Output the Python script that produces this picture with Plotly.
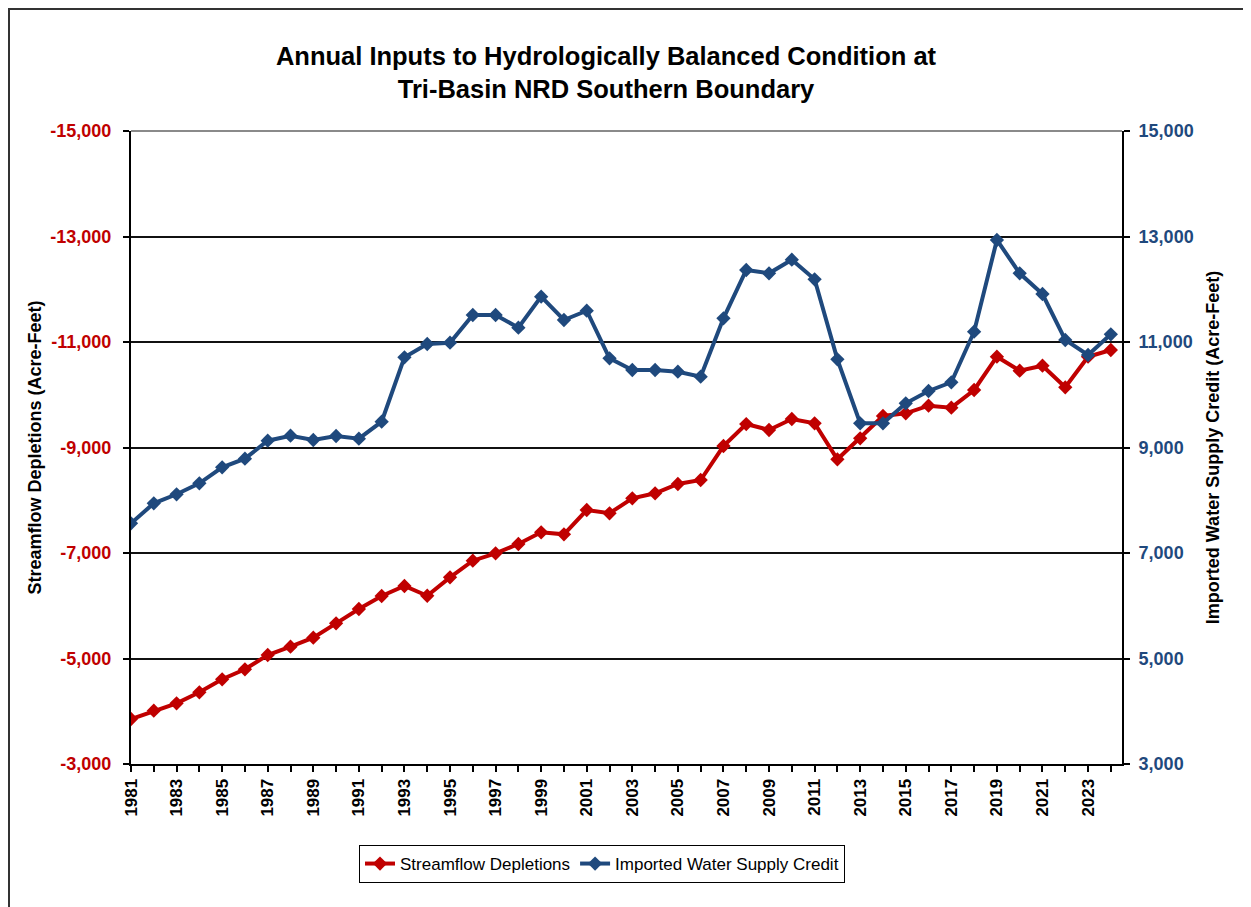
import plotly.graph_objects as go

years = list(range(1981, 2025))

streamflow_depletions = [
    -3853, -4010, -4151, -4359, -4606, -4795, -5066, -5224, -5394, -5667,
    -5938, -6185, -6374, -6190, -6539, -6854, -6994, -7171, -7392, -7354,
    -7815, -7753, -8037, -8132, -8308, -8384, -9028, -9445, -9332, -9540,
    -9459, -8776, -9174, -9597, -9648, -9792, -9755, -10090, -10721, -10456,
    -10551, -10141, -10721, -10848,
]

imported_water_credit = [
    7563, 7942, 8113, 8321, 8625, 8788, 9129, 9224, 9142, 9218,
    9167, 9489, 10710, 10962, 10987, 11512, 11512, 11271, 11859, 11417,
    11593, 10691, 10469, 10469, 10437, 10342, 11449, 12365, 12302, 12560,
    12189, 10672, 9459, 9459, 9838, 10071, 10236, 11195, 12934, 12302,
    11910, 11038, 10754, 11146,
]

left_tickvals = [-15000, -13000, -11000, -9000, -7000, -5000, -3000]
left_ticktext = ["-15,000", "-13,000", "-11,000", "-9,000", "-7,000", "-5,000", "-3,000"]
right_tickvals = [15000, 13000, 11000, 9000, 7000, 5000, 3000]
right_ticktext = ["15,000", "13,000", "11,000", "9,000", "7,000", "5,000", "3,000"]
x_ticktext = [str(y) if y % 2 == 1 else "" for y in years]

title_text = "Annual Inputs to Hydrologically Balanced Condition at<br>Tri-Basin NRD Southern Boundary"

RED = "#C00000"
BLUE = "#1F497D"
FONT = "Arial, Liberation Sans, sans-serif"

fig = go.Figure()
fig.add_trace(go.Scatter(
    x=years, y=streamflow_depletions, name="Streamflow Depletions",
    mode="lines+markers", yaxis="y",
    line=dict(color=RED, width=4),
    marker=dict(symbol="diamond", size=11, color=RED),
))
fig.add_trace(go.Scatter(
    x=years, y=imported_water_credit, name="Imported Water Supply Credit",
    mode="lines+markers", yaxis="y2",
    line=dict(color=BLUE, width=4),
    marker=dict(symbol="diamond", size=11, color=BLUE),
))

# page has an 8px body margin; figure origin is at page (8, 8)
OFF = 8
W, H = 1251 - OFF, 907 - OFF
L, T = 131 - OFF, 131 - OFF
R, B = 129, 143
pw = W - L - R
ph = H - T - B

def px_x(x):  # page pixel -> paper
    return (x - OFF - L) / pw

def px_y(y):
    return (H - B - (y - OFF)) / ph

fig.update_layout(
    width=W, height=H,
    margin=dict(l=L, r=R, t=T, b=B),
    paper_bgcolor="white", plot_bgcolor="white",
    font=dict(family=FONT, color="black"),
    title=dict(
        text="<b>" + title_text + "</b>",
        x=px_x(606), xanchor="center", xref="paper",
        y=1 - 57 / H, yanchor="top", yref="container",
        font=dict(size=25.5, family=FONT, color="black"),
    ),
    xaxis=dict(
        range=[1981, 2024.49],
        tickvals=years, ticktext=x_ticktext,
        tickangle=-90,
        ticks="outside", ticklen=6, tickwidth=2, tickcolor="black",
        showline=True, linecolor="black", linewidth=2,
        showgrid=False, zeroline=False,
        tickfont=dict(size=17, family=FONT, color="black", weight="bold"),
    ),
    yaxis=dict(
        range=[-3000, -15000],
        tickvals=left_tickvals, ticktext=left_ticktext,
        ticks="outside", ticklen=6, tickwidth=2, tickcolor="black",
        ticklabelstandoff=8,
        showline=True, linecolor="black", linewidth=2,
        showgrid=True, gridcolor="#111111", gridwidth=2,
        zeroline=False,
        tickfont=dict(size=18, family=FONT, color=RED, weight="bold"),
        title=dict(text="<b>Streamflow Depletions (Acre-Feet)</b>",
                   font=dict(size=18, family=FONT, color="black"), standoff=4),
    ),
    yaxis2=dict(
        range=[3000, 15000], overlaying="y", side="right",
        tickvals=right_tickvals, ticktext=right_ticktext,
        ticks="outside", ticklen=6, tickwidth=2, tickcolor="black",
        ticklabelstandoff=5,
        showline=True, linecolor="black", linewidth=2,
        showgrid=False, zeroline=False,
        tickfont=dict(size=18, family=FONT, color=BLUE, weight="bold"),
        title=dict(text="<b>Imported Water Supply Credit (Acre-Feet)</b>",
                   font=dict(size=18, family=FONT, color="black"), standoff=14),
    ),
    legend=dict(
        orientation="h", x=px_x(602), xanchor="center",
        y=px_y(845), yanchor="top",
        bordercolor="black", borderwidth=1, bgcolor="white",
        font=dict(size=17, family=FONT, color="black"),
    ),
    shapes=[
        dict(
            type="rect", xref="paper", yref="paper",
            x0=px_x(OFF + 1), x1=px_x(1270), y0=px_y(930), y1=px_y(OFF + 1),
            line=dict(color="#333333", width=2), fillcolor="rgba(0,0,0,0)",
            layer="below",
        ),
        dict(
            type="line", xref="paper", yref="paper",
            x0=0, x1=1, y0=1, y1=1,
            line=dict(color="#8a8a8a", width=2),
        ),
    ],
)

fig.write_html("out.html")
